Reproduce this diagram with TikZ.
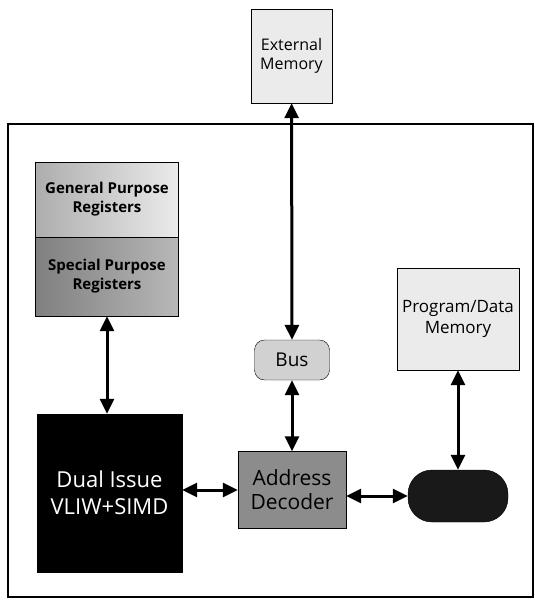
\documentclass[tikz,border=0pt]{standalone}
\usepackage{fontspec}
\setmainfont{Open Sans}
\usetikzlibrary{arrows.meta}
\tikzset{
  box/.style={draw, align=center, inner sep=2pt, font=\fontsize{16}{19}\selectfont},
  kmem/.style={box, fill=black!8},
  kreg/.style={box, left color=black!32, right color=black!8, font=\bfseries\fontsize{15}{19}\selectfont},
  kspec/.style={box, left color=black!50, right color=black!28, font=\bfseries\fontsize{15}{19}\selectfont},
  kcore/.style={box, fill=black, text=white, font=\fontsize{22}{27}\selectfont},
  kbus/.style={box, fill=black!18, rounded corners=10pt, font=\fontsize{19}{21}\selectfont},
  kdec/.style={box, fill=black!45, font=\fontsize{21}{24}\selectfont},
  kctrl/.style={box, fill=black!90, rounded corners=24pt},
  link/.style={{Triangle[length=15pt,width=14pt]}-{Triangle[length=15pt,width=14pt]}, line width=3pt},
}
\begin{document}
\begin{tikzpicture}[x=1pt, y=-1pt]
    \useasboundingbox (0,0) rectangle (535,602);
    \draw[line width=1.4pt] (8,124) rectangle (533,597);
    \node[kmem, minimum width=81pt, minimum height=94pt] (extmem) at (291.5,56) {External\\Memory};
    \node[kreg, minimum width=143pt, minimum height=75pt] (gpr) at (107,199.5) {General Purpose\\Registers};
    \node[kspec, minimum width=143pt, minimum height=79pt] (spr) at (107,276.5) {Special Purpose\\Registers};
    \node[kcore, minimum width=145pt, minimum height=158pt] (core) at (109.5,493) {Dual Issue\\VLIW+SIMD};
    \node[kbus, minimum width=75pt, minimum height=40pt] (bus) at (292,360) {Bus};
    \node[kdec, minimum width=108pt, minimum height=77pt] (addr) at (292,490) {Address\\Decoder};
    \node[kmem, minimum width=122pt, minimum height=102pt, font=\fontsize{17}{21}\selectfont] (pdmem) at (458,319) {Program/Data\\Memory};
    \node[kctrl, minimum width=100pt, minimum height=52pt] (ctrl) at (458,496) {};
    \draw[link] (extmem) -- (bus);
    \draw[link] (spr) -- (spr |- core.north);
    \draw[link] (bus) -- (addr);
    \draw[link] (core.east |- addr) -- (addr);
    \draw[link] (addr.east |- ctrl) -- (ctrl);
    \draw[link] (pdmem) -- (ctrl);
  \end{tikzpicture}
\end{document}
